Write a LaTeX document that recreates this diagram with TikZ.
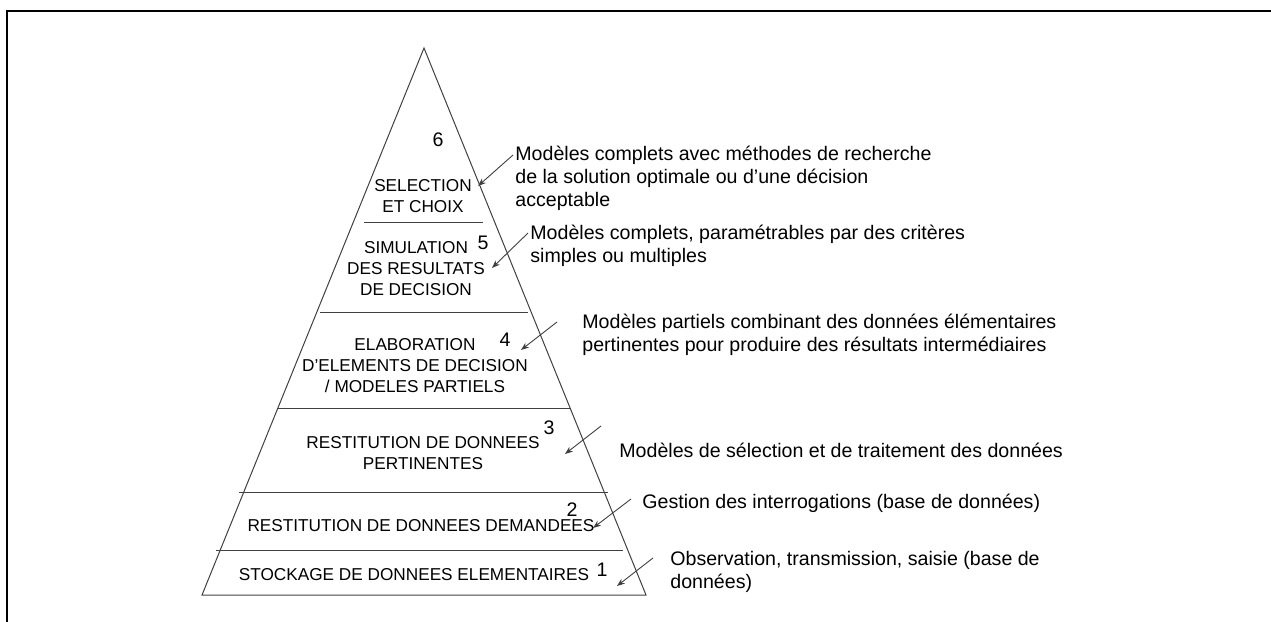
\documentclass[tikz,border=0pt]{standalone}
\usepackage{fontspec}
\setmainfont{Liberation Sans}
\usetikzlibrary{arrows.meta}
\begin{document}
\begin{tikzpicture}[x=0.5pt,y=-0.5pt,
   lvl/.style={font=\fontsize{8.6}{10.5}\selectfont,align=center,inner sep=0pt},
   num/.style={font=\fontsize{9.8}{11.5}\selectfont,inner sep=0pt},
   note/.style={font=\fontsize{9.8}{11.5}\selectfont,align=left,anchor=west,inner sep=0pt},
   ptr/.style={-{Stealth[length=4pt,width=3pt]},draw=black!75,line width=0.45pt}]
   \useasboundingbox (0,0) rectangle (1271,622);
   \draw[line width=1pt] (7,622) -- (7,11) -- (1271,11);
   \coordinate (apex) at (424,48);
   \coordinate (baseL) at (202,595);
   \coordinate (baseR) at (646,595);
   \draw[black!75,line width=0.5pt] (apex) -- (baseR) -- (baseL) -- cycle;
   \draw[black!75,line width=0.5pt] (364,222) -- (483,222);
   \draw[black!75,line width=0.5pt] (320,312) -- (528,312);
   \draw[black!75,line width=0.5pt] (277,408) -- (571,408);
   \draw[black!75,line width=0.5pt] (239,492) -- (608,492);
   \draw[black!75,line width=0.5pt] (216,550) -- (623,550);
   \node[lvl] (l6) at (423,196) {SELECTION\\ET CHOIX};
   \node[lvl] (l5) at (416,269) {SIMULATION\\DES RESULTATS\\DE DECISION};
   \node[lvl] (l4) at (415,366) {ELABORATION\\D'ELEMENTS DE DECISION\\/ MODELES PARTIELS};
   \node[lvl] (l3) at (423,453) {RESTITUTION DE DONNEES\\PERTINENTES};
   \node[lvl] (l2) at (421,526) {RESTITUTION DE DONNEES DEMANDEES};
   \node[lvl] (l1) at (414,575) {STOCKAGE DE DONNEES ELEMENTAIRES};
   \node[num] (n6) at (438,140) {6};
   \node[num] (n5) at (483,243) {5};
   \node[num] (n4) at (505,340) {4};
   \node[num] (n3) at (549,428) {3};
   \node[num] (n2) at (572,510) {2};
   \node[num] (n1) at (602,570) {1};
   \node[note] (t6) at (515,178) {Modèles complets avec méthodes de recherche\\de la solution optimale ou d’une décision\\acceptable};
   \node[note] (t5) at (530,246) {Modèles complets, paramétrables par des critères\\simples ou multiples};
   \node[note] (t4) at (582,335) {Modèles partiels combinant des données élémentaires\\pertinentes pour produire des résultats intermédiaires};
   \node[note] (t3) at (619,450) {Modèles de sélection et de traitement des données};
   \node[note] (t2) at (642,503) {Gestion des interrogations (base de données)};
   \node[note] (t1) at (670,572) {Observation, transmission, saisie (base de\\données)};
   \coordinate (s6) at (513,155); \coordinate (e6) at (478,186);
   \coordinate (s5) at (528,233); \coordinate (e5) at (492,268);
   \coordinate (s4) at (557,322); \coordinate (e4) at (521,350);
   \coordinate (s3) at (601,426); \coordinate (e3) at (565,454);
   \coordinate (s2) at (631,499); \coordinate (e2) at (593,528);
   \coordinate (s1) at (653,558); \coordinate (e1) at (617,586);
   \draw[ptr] (s6) -- (e6);
   \draw[ptr] (s5) -- (e5);
   \draw[ptr] (s4) -- (e4);
   \draw[ptr] (s3) -- (e3);
   \draw[ptr] (s2) -- (e2);
   \draw[ptr] (s1) -- (e1);
\end{tikzpicture}
\end{document}
